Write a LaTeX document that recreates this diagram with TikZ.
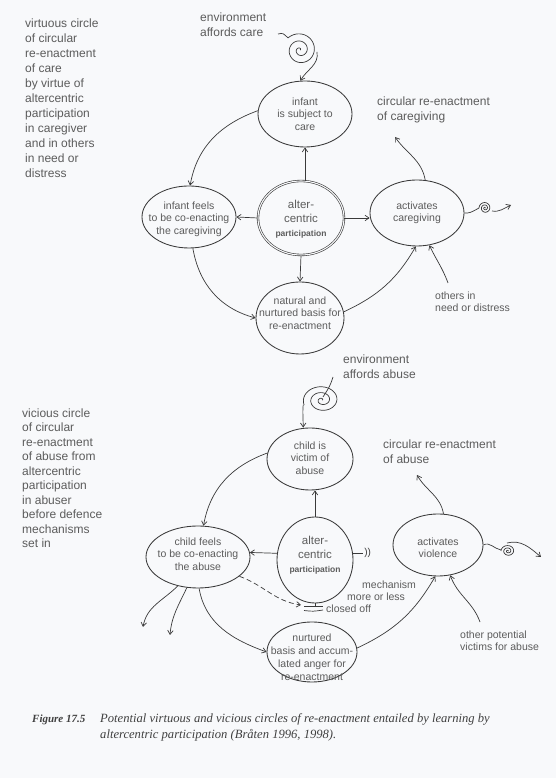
\documentclass[tikz,border=0pt]{standalone}
\usepackage{fontspec}
\setmainfont{Liberation Sans}
\newfontfamily\capfont{Liberation Serif}
\usetikzlibrary{arrows.meta,shapes.geometric}
\definecolor{lc}{HTML}{3A3A3A}
\definecolor{tx}{HTML}{5C5C5C}
\definecolor{bgc}{HTML}{F8F9FB}
\begin{document}
\begin{tikzpicture}[x=1pt,y=1pt,
  ell/.style={ellipse, draw=lc, line width=0.85pt, inner sep=0pt},
  dell/.style={ellipse, draw=lc, line width=0.6pt, double=bgc, double distance=1.1pt, inner sep=0pt},
  txt/.style={text=tx, align=center, inner sep=0pt, font=\fontsize{10.5}{12.5}\selectfont},
  lbl/.style={text=tx, align=left, inner sep=0pt, font=\fontsize{12}{15}\selectfont},
  small/.style={text=tx, align=left, inner sep=0pt, font=\fontsize{10.5}{12}\selectfont},
  plain/.style={draw=lc, line width=0.7pt},
  arr/.style={draw=lc, line width=0.7pt, -{Straight Barb[length=4pt,width=5.5pt]}},
  capt/.style={anchor=base west, inner sep=0pt, text=black!75, font=\capfont\itshape\fontsize{12.6}{15}\selectfont}
]
\fill[bgc] (0,0) rectangle (556,778);
\useasboundingbox (0,0) rectangle (556,778);

% ---------- left labels ----------
\node[lbl, anchor=west] (vt) at (25,680) {virtuous circle\\of circular\\re-enactment\\of care\\by virtue of\\altercentric\\participation\\in caregiver\\and in others\\in need or\\distress};
\node[lbl, anchor=west, font=\fontsize{12}{14.5}\selectfont] (vc) at (22,300) {vicious circle\\of circular\\re-enactment\\of abuse from\\altercentric\\participation\\in abuser\\before defence\\mechanisms\\set in};

% ---------- top diagram ----------
\node[ell, minimum width=94pt, minimum height=66pt] (care) at (305,664) {};
\node[txt] (careT) at (305,664) {infant\\is subject to\\care};
\node[ell, minimum width=94pt, minimum height=62pt] (feel) at (189,561) {};
\node[txt] (feelT) at (189,559) {infant feels\\to be co-enacting\\the caregiving};
\node[dell, minimum width=86pt, minimum height=74pt] (alt) at (301,560) {};
\node[txt, font=\fontsize{11.5}{14}\selectfont] (altT) at (301,559) {alter-\\centric\\{\fontsize{8.5}{10}\selectfont\bfseries participation}};
\node[ell, minimum width=94pt, minimum height=66pt] (act) at (417,565) {};
\node[txt] (actT) at (417,565) {activates\\caregiving};
\node[ell, minimum width=88pt, minimum height=72pt] (nat) at (300,460) {};
\node[txt] (natT) at (300,465) {natural and\\nurtured basis for\\re-enactment};

\node[lbl, anchor=west] (envc) at (200,753) {environment\\affords care};
\node[lbl, anchor=west] (crc) at (377,668) {circular re-enactment\\of caregiving};
\node[small, anchor=west] (oth) at (435,476) {others in\\need or distress};

\coordinate (cr1) at (395,641);
\coordinate (oth1) at (448,495);
\coordinate (sp1in) at (278,744);
\coordinate (sp1out) at (317,726);
\coordinate (sp2in) at (479,570);
\coordinate (sp2out) at (492,567);
\coordinate (sp2end) at (511,573);

% spiral: environment affords care
\draw[plain] (sp1in) .. controls (283,745) .. (288,740);
\draw[plain] plot[domain=0:855, samples=140, smooth] ({300+(\x/855)*17*cos(\x)},{728+(\x/855)*17*sin(\x)});
\draw[arr] (sp1out) to[out=-80,in=60] (care.98);

\draw[arr] (care.176) to[out=200,in=80] (feel.88);
\draw[arr] (care.south |- alt.north) -- (care.south);
\draw[arr] (alt.west) -- (feel.east);
\draw[arr] (alt.east) -- (act.west |- alt.east);
\draw[arr] (alt.south) -- (nat.north);
\draw[arr] (feel.277) to[out=-80,in=165] (nat.180);
\draw[arr] (nat.8) to[out=25,in=240] (act.268);
\draw[arr] (act.76) to[out=100,in=-55] (cr1);
\draw[arr] (oth1) to[out=110,in=-65] (act.291);
% small spiral right
\draw[plain] (act.east) .. controls (470,565) .. (sp2in);
\draw[plain] plot[domain=0:900, samples=100, smooth] ({485+(\x/900)*6*cos(\x)},{570+(\x/900)*6*sin(\x)});
\draw[arr] (sp2out) to[out=-10,in=205] (sp2end);

% ---------- bottom diagram ----------
\node[ell, minimum width=86pt, minimum height=62pt] (vic) at (310,319) {};
\node[txt] (vicT) at (310,320) {child is\\victim of\\abuse};
\node[ell, minimum width=104pt, minimum height=62pt] (cf) at (198,221) {};
\node[txt] (cfT) at (198,224) {child feels\\to be co-enacting\\the abuse};
\node[ell, minimum width=76pt, minimum height=86pt] (alt2) at (315,218) {};
\node[txt, font=\fontsize{11.5}{14}\selectfont] (alt2T) at (315,223) {alter-\\centric\\{\fontsize{8.5}{10}\selectfont\bfseries participation}};
\node[ell, minimum width=90pt, minimum height=62pt] (viol) at (438,233) {};
\node[txt] (violT) at (438,230) {activates\\violence};
\node[ell, minimum width=90pt, minimum height=60pt] (nurt) at (312,126) {};
\node[txt, font=\fontsize{10.5}{13}\selectfont] (nurtT) at (312,121) {nurtured\\basis and accum-\\lated anger for\\re-enactment};

\node[lbl, anchor=west] (enva) at (343,411) {environment\\affords abuse};
\node[lbl, anchor=west] (cra) at (383,326) {circular re-enactment\\of abuse};
\node[small, anchor=west] (opv) at (460,137) {other potential\\victims for abuse};
\node[small, anchor=west] (m1) at (362,193) {mechanism};
\node[small, anchor=west] (m2) at (347,181) {more or less};
\node[small, anchor=west] (m3) at (326,169) {closed off};

\coordinate (cr2) at (417,303);
\coordinate (opv1) at (480,156);
\coordinate (l1) at (143,151);
\coordinate (l2) at (170,143);
\coordinate (blk) at (301,173);
\coordinate (sp3tail) at (333,401);
\coordinate (sp3in) at (323,381);
\coordinate (sp3out) at (303.2,373.1);
\coordinate (sp4in) at (501,228);
\coordinate (sp4out) at (507,235);
\coordinate (sp4end) at (541,221);

% spiral: environment affords abuse
\draw[plain] (sp3tail) .. controls (330,392) .. (sp3in);
\draw[plain] plot[domain=0:920, samples=160, smooth] ({322+(\x/920)*19*cos(\x)},{378+(\x/920)*15*sin(\x)});
\draw[arr] (sp3out) to[out=-95,in=90] (vic.north -| sp3out);

\draw[arr] (vic.172) to[out=200,in=80] (cf.80);
\draw[arr] (alt2.north) -- (vic.south -| alt2.north);
\draw[arr] (alt2.170) -- (cf.5);
\draw[plain] (alt2.10) -- ++(10,0) node[anchor=west, inner sep=1pt, text=lc, font=\fontsize{10}{12}\selectfont] (par) {))};
\draw[arr, dashed, dash pattern=on 5pt off 3pt] (cf.-25) to[out=-20,in=172] (blk);
\draw[plain] (alt2.south) -- ++(0,-3);
\draw[plain] (304,172) -- (323,172);
\draw[plain] (304,167.5) .. controls (313,166.5) .. (323,168);
\draw[arr] (cf.272) to[out=-80,in=160] (nurt.180);
\draw[arr] (nurt.5) to[out=25,in=240] (viol.265);
\draw[arr] (viol.80) to[out=100,in=-60] (cr2);
\draw[arr] (opv1) to[out=110,in=-70] (viol.292);
\draw[arr] (cf.235) to[out=225,in=80] (l1);
\draw[arr] (cf.250) to[out=245,in=85] (l2);
% small spiral right bottom
\draw[plain] (viol.east) to[out=30,in=170] (sp4in);
\draw[plain] plot[domain=0:900, samples=100, smooth] ({508+(\x/900)*7*cos(\x)},{227+(\x/900)*6*sin(\x)});
\draw[arr] (sp4out) to[out=15,in=140] (sp4end);

% ---------- caption ----------
\node[capt, font=\capfont\itshape\bfseries\fontsize{11}{13}\selectfont] (fig) at (32,55) {Figure 17.5};
\node[capt] (cap1) at (100,55) {Potential virtuous and vicious circles of re-enactment entailed by learning by};
\node[capt] (cap2) at (100,39) {altercentric participation (Bråten 1996, 1998).};
\end{tikzpicture}
\end{document}
